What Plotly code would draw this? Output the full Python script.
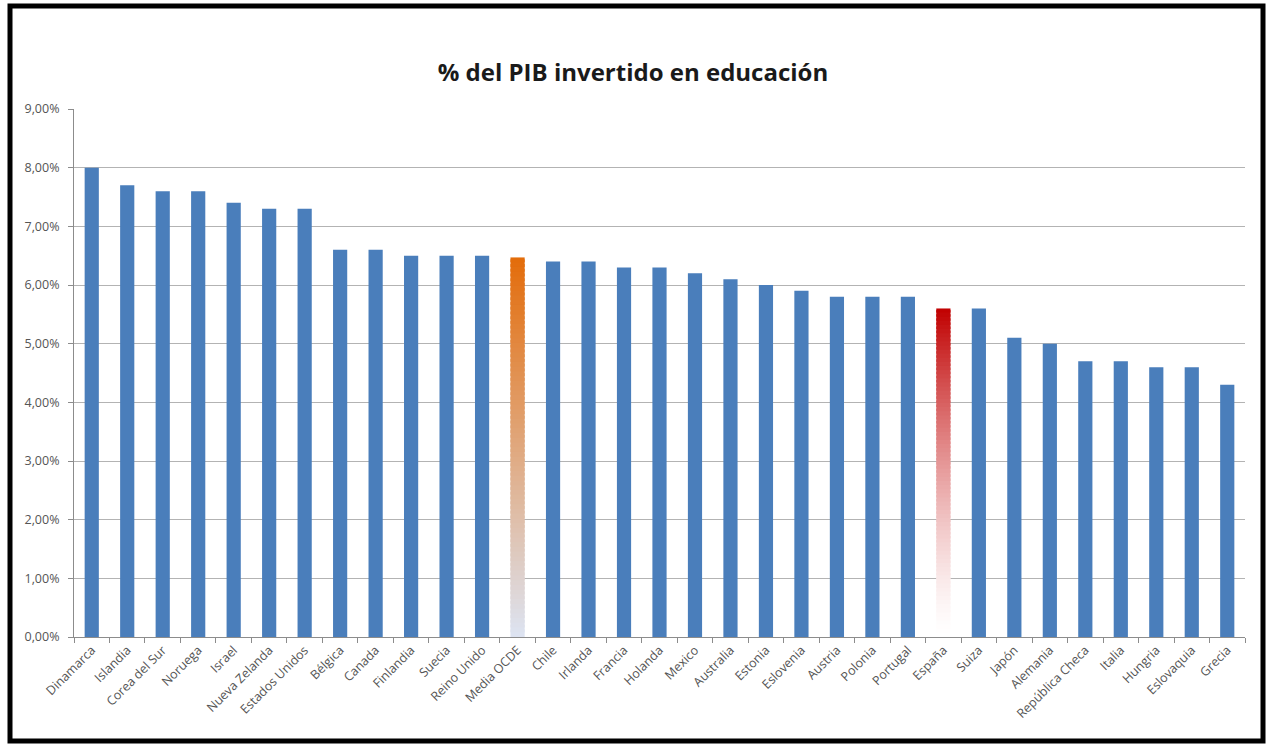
import plotly.graph_objects as go

countries = ["Dinamarca", "Islandia", "Corea del Sur", "Noruega", "Israel", "Nueva Zelanda",
             "Estados Unidos", "Bélgica", "Canada", "Finlandia", "Suecia", "Reino Unido",
             "Media OCDE", "Chile", "Irlanda", "Francia", "Holanda", "Mexico", "Australia",
             "Estonia", "Eslovenia", "Austria", "Polonia", "Portugal", "España", "Suiza",
             "Japón", "Alemania", "República Checa", "Italia", "Hungria", "Eslovaquia", "Grecia"]
values = [8.0, 7.7, 7.6, 7.6, 7.4, 7.3, 7.3, 6.6, 6.6, 6.5, 6.5, 6.5,
          6.47, 6.4, 6.4, 6.3, 6.3, 6.2, 6.1, 6.0, 5.9, 5.8, 5.8, 5.8, 5.6, 5.6,
          5.1, 5.0, 4.7, 4.7, 4.6, 4.6, 4.3]
yticks = [0, 1, 2, 3, 4, 5, 6, 7, 8, 9]
ytick_labels = ["0,00%", "1,00%", "2,00%", "3,00%", "4,00%", "5,00%", "6,00%", "7,00%", "8,00%", "9,00%"]

# (bottom colour, top colour, gamma of the fade)
highlight = {"Media OCDE": ((221, 228, 242), (227, 108, 10), 1.0),
             "España": ((255, 255, 255), (192, 0, 0), 1.4)}

blue = "#4a7ebb"
W, H = 1269, 746
L, R, T, B = 74, 24, 109, 109

fig = go.Figure()
fig.add_trace(go.Bar(
    x=countries,
    y=[0 if c in highlight else v for c, v in zip(countries, values)],
    marker=dict(color=blue, line=dict(width=0)),
    width=0.4, hoverinfo="x+y",
))

# gradient bars built from stacked thin segments
N = 80
gx, gy, gb, gc = [], [], [], []
for c, v in zip(countries, values):
    if c not in highlight:
        continue
    c0, c1, g = highlight[c]
    step = v / N
    for i in range(N):
        t = ((i + 0.5) / N) ** g
        col = tuple(round(c0[k] + (c1[k] - c0[k]) * t) for k in range(3))
        gx.append(c)
        gb.append(i * step)
        gy.append(step * (1.6 if i < N - 1 else 1.0))
        gc.append("rgb(%d,%d,%d)" % col)
fig.add_trace(go.Bar(x=gx, y=gy, base=gb, marker=dict(color=gc, line=dict(width=0)),
                     width=0.4, hoverinfo="skip"))

pw = W - L - R
ph = H - T - B
def px(xp):
    return (xp - L) / pw
def py(yp):
    return (H - B - yp) / ph

font_fam = "Open Sans, Noto Sans, sans-serif"
fig.update_layout(
    width=W, height=H,
    margin=dict(l=L, r=R, t=T, b=B),
    paper_bgcolor="white", plot_bgcolor="white",
    barmode="overlay", showlegend=False,
    title=dict(text="<b>% del PIB invertido en educación</b>", x=px(633), xref="paper",
               xanchor="center", y=1 - 73 / H, yanchor="middle",
               font=dict(family=font_fam, size=24, color="#1a1a1a")),
    xaxis=dict(type="category", categoryorder="array", categoryarray=countries,
               tickangle=-45, tickson="boundaries", ticks="outside", ticklen=5,
               tickcolor="#8c8c8c", showline=True, linecolor="#8c8c8c", linewidth=1,
               showgrid=False,
               tickfont=dict(family=font_fam, size=12.5, color="#555555")),
    yaxis=dict(range=[0, 9], tickvals=yticks, ticktext=ytick_labels, ticks="outside",
               ticklen=5, tickcolor="#8c8c8c", showline=True, linecolor="#8c8c8c",
               linewidth=1, showgrid=True, gridcolor="#b3b3b3", gridwidth=1,
               zeroline=False, ticklabelstandoff=6,
               tickfont=dict(family=font_fam, size=12.5, color="#555555")),
    shapes=[dict(type="rect", xref="paper", yref="paper",
                 x0=px(10), x1=px(1263), y0=py(6), y1=py(741),
                 line=dict(color="black", width=5), fillcolor="rgba(0,0,0,0)", layer="above")],
)

fig.write_html("out.html")
